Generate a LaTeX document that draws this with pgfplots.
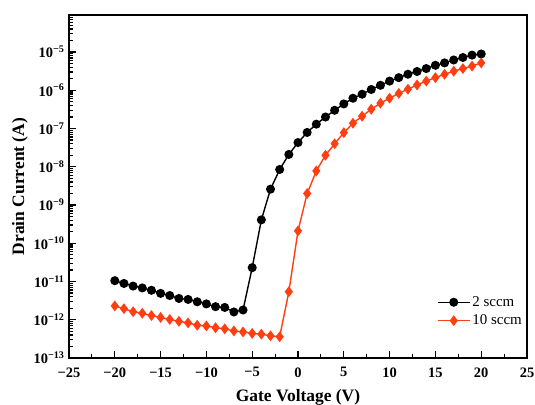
\documentclass[border=0pt]{standalone}
\usepackage{fontspec}
\setmainfont{Liberation Serif}
\usepackage{pgfplots}
\pgfplotsset{compat=1.18}
\definecolor{sccmred}{RGB}{255,62,18}

\begin{document}
\begin{tikzpicture}
\useasboundingbox (-69bp,-47bp) rectangle (466bp,358bp);
\begin{axis}[
    at={(0,0)}, anchor=south west,
    scale only axis,
    width=458bp, height=343bp,
    ymode=log,
    xmin=-25, xmax=25,
    ymin=1e-13, ymax=9.3e-5,
    axis line style={line width=1.5bp},
    tick align=inside,
    xtick pos=bottom, ytick pos=left,
    major tick length=7bp, minor tick length=4bp,
    every tick/.style={line width=1.1bp, black},
    xtick={-25,-20,...,25},
    xticklabels={\textbf{−25},\textbf{−20},\textbf{−15},\textbf{−10},\textbf{−5},\textbf{0},\textbf{5},\textbf{10},\textbf{15},\textbf{20},\textbf{25}},
    minor x tick num=1,
    ytick={1e-13,1e-12,1e-11,1e-10,1e-9,1e-8,1e-7,1e-6,1e-5},
    yticklabels={
      \textbf{10}\textsuperscript{\textbf{−13}},
      \textbf{10}\textsuperscript{\textbf{−12}},
      \textbf{10}\textsuperscript{\textbf{−11}},
      \textbf{10}\textsuperscript{\textbf{−10}},
      \textbf{10}\textsuperscript{\textbf{−9}},
      \textbf{10}\textsuperscript{\textbf{−8}},
      \textbf{10}\textsuperscript{\textbf{−7}},
      \textbf{10}\textsuperscript{\textbf{−6}},
      \textbf{10}\textsuperscript{\textbf{−5}}},
    minor ytick={2e-13,3e-13,4e-13,5e-13,6e-13,7e-13,8e-13,9e-13,
      2e-12,3e-12,4e-12,5e-12,6e-12,7e-12,8e-12,9e-12,
      2e-11,3e-11,4e-11,5e-11,6e-11,7e-11,8e-11,9e-11,
      2e-10,3e-10,4e-10,5e-10,6e-10,7e-10,8e-10,9e-10,
      2e-9,3e-9,4e-9,5e-9,6e-9,7e-9,8e-9,9e-9,
      2e-8,3e-8,4e-8,5e-8,6e-8,7e-8,8e-8,9e-8,
      2e-7,3e-7,4e-7,5e-7,6e-7,7e-7,8e-7,9e-7,
      2e-6,3e-6,4e-6,5e-6,6e-6,7e-6,8e-6,9e-6,
      2e-5,3e-5,4e-5,5e-5,6e-5,7e-5,8e-5,9e-5},
    tick label style={font=\fontsize{14.5}{16}\selectfont},
    xticklabel style={yshift=-6bp},
    yticklabel style={xshift=-1bp},
    xlabel={\textbf{Gate Voltage (V)}},
    ylabel={\textbf{Drain Current (A)}},
    label style={font=\fontsize{17.5}{19}\selectfont},
    xlabel style={yshift=-5bp},
    ylabel style={yshift=-1bp},
    legend style={at={(1.0,0.08)}, anchor=south east, draw=none, fill=none,
      font=\fontsize{15}{17}\selectfont, row sep=3bp},
    legend cell align=left,
    legend image code/.code={%
      \draw[mark repeat=2,mark phase=2,#1]
        plot coordinates {(0bp,0bp) (16bp,0bp) (32bp,0bp)};},
]
\addplot[black, line width=1.4bp, mark=*, mark size=3.8bp] coordinates {
(-20,1.05e-11) (-19,8.9e-12) (-18,7.6e-12) (-17,6.8e-12) (-16,5.9e-12)
(-15,4.9e-12) (-14,4.3e-12) (-13,3.6e-12) (-12,3.4e-12) (-11,2.95e-12)
(-10,2.6e-12) (-9,2.2e-12) (-8,2.1e-12) (-7,1.6e-12) (-6,1.8e-12)
(-5,2.3e-11) (-4,4.1e-10) (-3,2.6e-9) (-2,8.5e-9) (-1,2.1e-8)
(0,4.3e-8) (1,7.9e-8) (2,1.3e-7) (3,2.0e-7) (4,3.0e-7)
(5,4.4e-7) (6,6.2e-7) (7,7.9e-7) (8,1.05e-6) (9,1.35e-6)
(10,1.74e-6) (11,2.14e-6) (12,2.63e-6) (13,3.1e-6) (14,3.7e-6)
(15,4.5e-6) (16,5.2e-6) (17,6.2e-6) (18,7.2e-6) (19,8.3e-6) (20,8.9e-6)};
\addlegendentry{2 sccm}
\addplot[sccmred, line width=1.4bp, mark=diamond*, mark size=4.3bp] coordinates {
(-20,2.3e-12) (-19,1.95e-12) (-18,1.62e-12) (-17,1.48e-12) (-16,1.29e-12)
(-15,1.15e-12) (-14,1.02e-12) (-13,9.1e-13) (-12,8.3e-13) (-11,7.2e-13)
(-10,6.9e-13) (-9,6.2e-13) (-8,5.8e-13) (-7,5.1e-13) (-6,4.8e-13)
(-5,4.4e-13) (-4,4.2e-13) (-3,3.8e-13) (-2,3.6e-13) (-1,5.4e-12)
(0,2.1e-10) (1,2.0e-9) (2,7.8e-9) (3,2.0e-8) (4,4.0e-8)
(5,7.8e-8) (6,1.38e-7) (7,2.1e-7) (8,3.2e-7) (9,4.6e-7)
(10,6.2e-7) (11,8.3e-7) (12,1.07e-6) (13,1.38e-6) (14,1.74e-6)
(15,2.14e-6) (16,2.63e-6) (17,3.16e-6) (18,3.7e-6) (19,4.3e-6) (20,5.2e-6)};
\addlegendentry{10 sccm}
\end{axis}
\end{tikzpicture}
\end{document}
